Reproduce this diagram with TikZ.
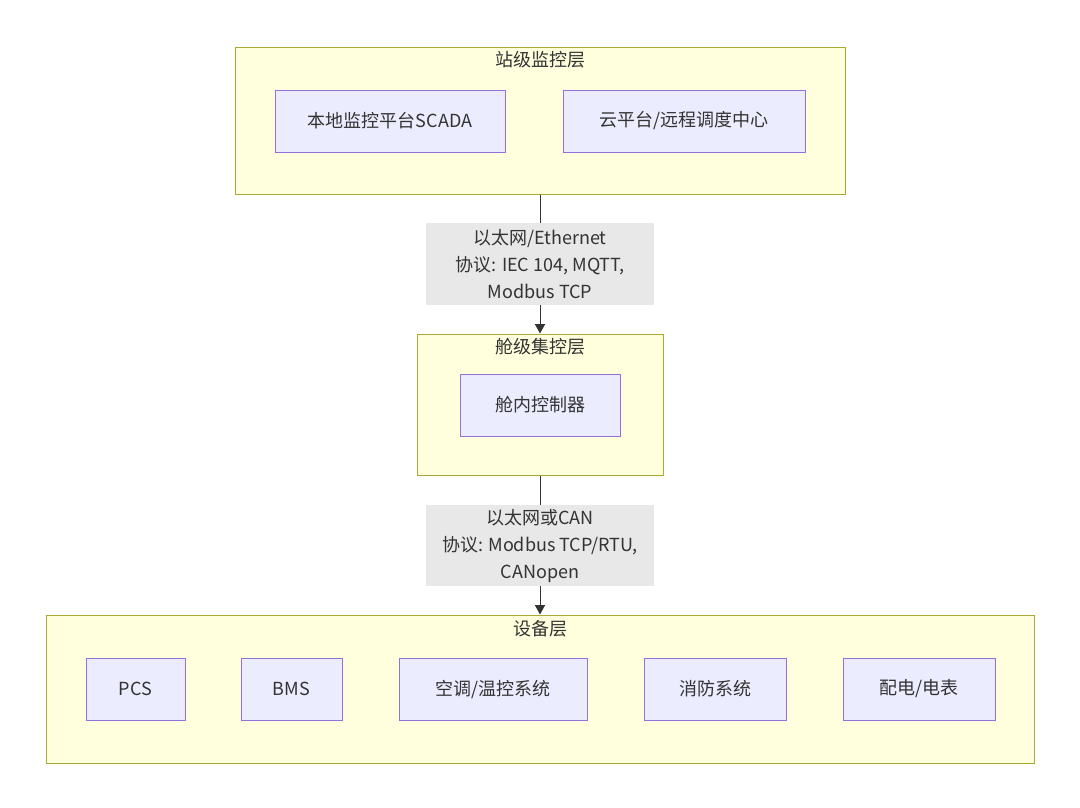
\documentclass[tikz,border=0pt]{standalone}
\usepackage{fontspec}
\setmainfont{Noto Sans CJK SC}
\usetikzlibrary{arrows.meta}
\definecolor{clfill}{HTML}{FFFFDE}
\definecolor{cldraw}{HTML}{AAAA33}
\definecolor{ndfill}{HTML}{ECECFF}
\definecolor{nddraw}{HTML}{9370DB}
\definecolor{lbfill}{HTML}{E8E8E8}
\definecolor{txt}{HTML}{333333}
\tikzset{
  cluster/.style={draw=cldraw, fill=clfill, line width=0.75pt, inner sep=0pt},
  nodebox/.style={draw=nddraw, fill=ndfill, line width=0.75pt, minimum height=46.5pt, inner sep=0pt, text=txt, font=\fontsize{13.5pt}{16pt}\selectfont},
  title/.style={text=txt, font=\fontsize{13.5pt}{16pt}\selectfont, inner sep=0pt},
  elabel/.style={fill=lbfill, draw=none, text=txt, align=center, minimum width=171pt, minimum height=61pt, inner sep=0pt, font=\fontsize{13.5pt}{20.25pt}\selectfont},
  conn/.style={draw=txt, line width=0.75pt, -{Triangle[width=7.5pt,length=7pt]}}
}
\begin{document}
\begin{tikzpicture}[x=0.75pt,y=-0.75pt]
\useasboundingbox[fill=white] (0,0) rectangle (1080,807);
% clusters
\node[cluster, minimum width=457.5pt, minimum height=110.25pt] (top) at (540,120.5) {};
\node[title] (toptitle) at (540,60) {站级监控层};
\node[nodebox, minimum width=172.5pt] (scada) at (390,121) {本地监控平台SCADA};
\node[nodebox, minimum width=181.5pt] (cloud) at (684,121) {云平台/远程调度中心};

\node[cluster, minimum width=184.5pt, minimum height=105.75pt] (mid) at (540,404.5) {};
\node[title] (midtitle) at (540,347) {舱级集控层};
\node[nodebox, minimum width=120pt] (ctrl) at (540,405) {舱内控制器};

\node[cluster, minimum width=741pt, minimum height=111pt] (bot) at (540,689) {};
\node[title] (bottitle) at (540,629) {设备层};
\node[nodebox, minimum width=74.25pt] (pcs) at (135.5,689) {PCS};
\node[nodebox, minimum width=75.75pt] (bms) at (291.5,689) {BMS};
\node[nodebox, minimum width=141pt] (hvac) at (493,689) {空调/温控系统};
\node[nodebox, minimum width=106.5pt] (fire) at (715,689) {消防系统};
\node[nodebox, minimum width=114pt] (meter) at (919,689) {配电/电表};

% connectors
\draw[conn] (top.south) -- (mid.north);
\draw[conn] (mid.south) -- (bot.north);
\node[elabel] (lab1) at (540,264) {以太网/Ethernet\\协议: IEC 104, MQTT,\\Modbus TCP};
\node[elabel] (lab2) at (540,545.5) {以太网或CAN\\协议: Modbus TCP/RTU,\\CANopen};
\end{tikzpicture}
\end{document}
